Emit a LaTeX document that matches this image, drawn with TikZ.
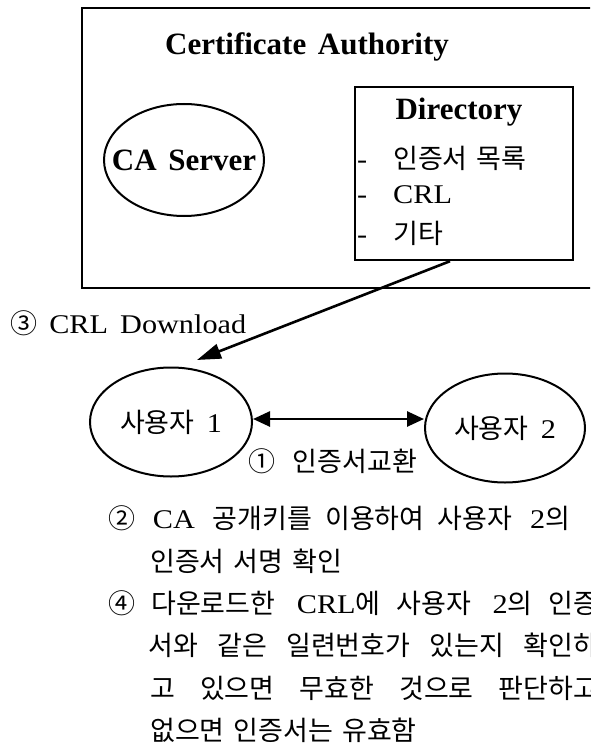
\documentclass[tikz,border=0pt]{standalone}
\usepackage{fontspec}
\setmainfont{Liberation Serif}[FakeStretch=1.12,WordSpace=1.6]
\newfontfamily\headfont{Liberation Serif}[WordSpace=1.5]
\newfontfamily\krfont{Noto Sans CJK KR}[Scale=1.0,WordSpace=1.5]
\usetikzlibrary{positioning,shapes.geometric,arrows.meta}
\newcommand{\ko}[1]{{\krfont #1}}
\newcommand{\spread}[2]{\makebox[#1][s]{#2}}

\begin{document}
\begin{tikzpicture}[x=1pt, y=-1pt,
  every node/.style={inner sep=0pt, font=\fontsize{27}{32}\selectfont},
  head/.style={font=\headfont\bfseries\fontsize{31}{36}\selectfont},
  frame/.style={draw, line width=2.4pt},
  user/.style={ellipse, draw, line width=2pt, minimum height=109pt},
  item/.style={anchor=west},
  link/.style={line width=2.6pt}]
\useasboundingbox (0,0) rectangle (590,751);
\clip (0,0) rectangle (590,751);

% certificate authority
\node[frame, minimum width=528pt, minimum height=280pt] (ca) at (346,148) {};
\node[head] (catitle) at (307,47) {Certificate Authority};
\node[head] (server) at (184,160) {CA Server};
\draw[line width=2pt] (server.center) ellipse [x radius=80, y radius=56];

% directory
\node[frame, minimum width=218pt, minimum height=173pt] (dir) at (464,173.5) {};
\node[head] (dirtitle) at (459,112) {Directory};
\node[item] (certs) at (357,158) {\makebox[36pt][l]{-}\ko{인증서 목록}};
\node[item] (crl) at (357,195) {\makebox[36pt][l]{-}CRL};
\node[item] (etc) at (357,233) {\makebox[36pt][l]{-}\ko{기타}};

% users
\coordinate (drop) at (197,360);
\draw[link, -{Triangle[length=24pt,width=15pt]}] ([xshift=-14pt]dir.south) -- (drop);
\node[item] (download) at (10,323) {\ko{③} CRL Download};
\node[user, minimum width=162pt] (u1) at (171,422) {\ko{사용자} 1};
\node[user, minimum width=160pt] (u2) at (505,428) {\ko{사용자} 2};
\coordinate (ex) at ([yshift=3pt]u1.east);
\draw[link, {Triangle[length=17pt,width=15pt]}-{Triangle[length=17pt,width=15pt]}] (ex) -- (ex -| u2.west);
\node[item] (swap) at (248,461) {\spread{169pt}{\ko{① 인증서교환}}};

% steps
\node[item] (s1) at (108,518) {\spread{462pt}{\ko{②} CA \ko{공개키를 이용하여 사용자} 2\ko{의}}};
\node[item] (s2) at (150,561) {\ko{인증서 서명 확인}};
\node[item] (s3) at (108,603) {\spread{490pt}{\ko{④ 다운로드한} CRL\ko{에 사용자} 2\ko{의 인증}}};
\node[item] (s4) at (148,645) {\spread{450pt}{\ko{서와 같은 일련번호가 있는지 확인하}}};
\node[item] (s5) at (150,688) {\spread{448pt}{\ko{고 있으면 무효한 것으로 판단하고}}};
\node[item] (s6) at (150,730) {\ko{없으면 인증서는 유효함}};
\end{tikzpicture}
\end{document}
